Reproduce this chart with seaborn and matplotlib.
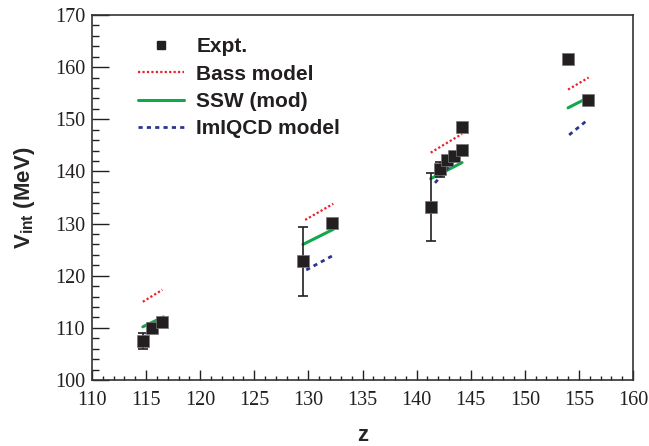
import pandas as pd
import matplotlib
matplotlib.use("Agg")
import matplotlib.pyplot as plt
from matplotlib.ticker import MultipleLocator
from matplotlib.lines import Line2D
import seaborn as sns

# experimental points
expt_z = [114.7, 115.5, 116.5, 129.5, 132.2, 141.3, 142.2, 142.8, 143.5, 144.2, 144.2, 154.0, 155.8]
expt_v = [107.5, 110.0, 111.1, 122.8, 130.2, 133.2, 140.4, 142.2, 143.0, 144.2, 148.6, 161.5, 153.7]
expt_err = [1.5, 0, 0, 6.6, 0, 6.5, 1.5, 0, 0, 0, 0, 0, 0]

# model curves, two end points per group
grp = [1, 1, 2, 2, 3, 3, 4, 4]
bass_z = [114.7, 116.5, 129.7, 132.3, 141.3, 144.2, 154.0, 155.9]
bass_v = [115.0, 117.3, 130.7, 133.8, 143.6, 147.2, 155.7, 158.0]
ssw_z = [114.7, 116.6, 129.5, 132.3, 141.3, 144.2, 154.0, 155.9]
ssw_v = [110.2, 112.1, 126.0, 128.9, 138.6, 141.7, 152.2, 154.2]
qcd_z = [114.7, 116.5, 129.8, 132.2, 141.7, 144.2, 154.1, 155.7]
qcd_v = [108.0, 111.3, 121.1, 123.8, 137.8, 143.8, 147.0, 149.7]

bass = pd.DataFrame({"z": bass_z, "v": bass_v, "g": grp})
ssw = pd.DataFrame({"z": ssw_z, "v": ssw_v, "g": grp})
qcd = pd.DataFrame({"z": qcd_z, "v": qcd_v, "g": grp})
expt = pd.DataFrame({"z": expt_z, "v": expt_v, "err": expt_err})

sns.set_style("ticks")
plt.rcParams["font.family"] = ["Liberation Serif", "DejaVu Serif"]
plt.rcParams["mathtext.fontset"] = "custom"
plt.rcParams["mathtext.bf"] = "Liberation Sans:bold"
plt.rcParams["mathtext.rm"] = "Liberation Sans:bold"

fig = plt.figure(figsize=(6.49, 4.46), dpi=100)
ax = fig.add_axes([92 / 649, 1 - 380 / 446, (633 - 92) / 649, (380 - 15) / 446])

dark = "#231f20"
sns.lineplot(data=bass, x="z", y="v", units="g", estimator=None, ax=ax,
             color="#e8212b", lw=1.6, linestyle=(0, (1, 1)))
sns.lineplot(data=ssw, x="z", y="v", units="g", estimator=None, ax=ax,
             color="#10a84a", lw=2.2, linestyle="-")
sns.lineplot(data=qcd, x="z", y="v", units="g", estimator=None, ax=ax,
             color="#2b3590", lw=2.0, linestyle=(0, (1.5, 1.5)))

eb = expt[expt["err"] > 0]
ax.errorbar(eb["z"], eb["v"], yerr=eb["err"], fmt="none", ecolor=dark,
            elinewidth=1.2, capsize=3.5, capthick=1.2)
sns.scatterplot(data=expt, x="z", y="v", ax=ax, marker="s", s=80,
                color=dark, edgecolor="#777777", linewidth=0.5, zorder=5)

ax.set_xlim(110, 160)
ax.set_ylim(100, 170)
ax.xaxis.set_major_locator(MultipleLocator(5))
ax.xaxis.set_minor_locator(MultipleLocator(1))
ax.yaxis.set_major_locator(MultipleLocator(10))
ax.yaxis.set_minor_locator(MultipleLocator(2))
ax.tick_params(axis="x", which="major", direction="in", length=7, width=1, colors=dark,
               labelsize=14.5, pad=8, top=False)
ax.tick_params(axis="x", which="minor", direction="in", length=3, width=1, colors=dark, top=False)
ax.tick_params(axis="y", which="major", direction="in", length=12, width=1, colors=dark,
               labelsize=14.5, pad=5, right=False)
ax.tick_params(axis="y", which="minor", direction="in", length=5, width=1, colors=dark, right=False)
for s in ax.spines.values():
    s.set_visible(True)
    s.set_linewidth(1.2)
    s.set_color("#333333")

ax.set_xlabel("z", fontsize=16, fontweight="bold", family="Liberation Sans", labelpad=11)
ax.set_ylabel(r"V$_{\mathbf{int}}$ (MeV)", fontsize=16, fontweight="bold",
              family="Liberation Sans", labelpad=13)

handles = [
    Line2D([], [], marker="s", color=dark, ls="none", markersize=5.5),
    Line2D([], [], color="#e8212b", lw=1.6, ls=(0, (1, 1))),
    Line2D([], [], color="#10a84a", lw=2.2, ls="-"),
    Line2D([], [], color="#2b3590", lw=2.0, ls=(0, (1.5, 1.5))),
]
labels = ["Expt.", "Bass model", "SSW (mod)", "ImIQCD model"]
leg = ax.legend(handles, labels, loc="upper left", bbox_to_anchor=(0.05, 0.99),
                frameon=False, handlelength=2.2, handletextpad=0.6, labelspacing=0.4,
                prop={"family": "Liberation Sans", "weight": "bold", "size": 15})
for t in leg.get_texts():
    t.set_color(dark)

fig.savefig("out.png", dpi=100)
